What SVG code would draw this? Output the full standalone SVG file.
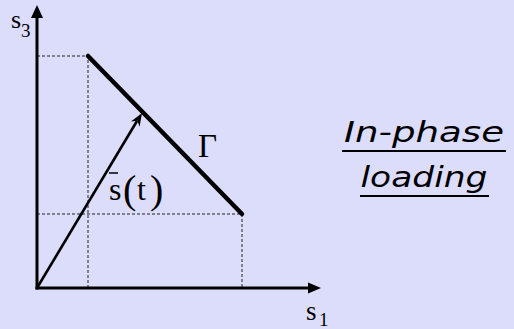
<svg xmlns="http://www.w3.org/2000/svg" width="514" height="329" viewBox="0 0 514 329">
<style>
.axis{stroke:#000;stroke-width:3;fill:none}
.dash{stroke:#222;stroke-width:1;stroke-dasharray:3,2;fill:none}
.serif{fill:#000}
.title{font-family:'DejaVu Sans',Verdana,sans-serif;font-style:italic;font-size:29px;fill:#000}
.ul{stroke:#000;stroke-width:2}
</style>
<rect x="0" y="0" width="514" height="329" fill="#dcdcfb"/>
<g id="guides">
<path class="dash" d="M37,56 H88 V288"/>
<path class="dash" d="M37,214 H242 V288"/>
</g>
<g id="connectors">
<line class="axis" x1="37" y1="289.5" x2="37" y2="16"/>
<polygon points="37,5 43,18 31,18" fill="#000"/>
<line class="axis" x1="35.5" y1="288" x2="310" y2="288"/>
<polygon points="321,288 308,282.5 308,293.5" fill="#000"/>
<line x1="37" y1="288" x2="137" y2="121" stroke="#000" stroke-width="2.6"/>
<polygon points="142,113 139.6,126.8 137.4,120.7 131,121.6" fill="#000"/>
</g>
<g id="gamma-line">
<line x1="88" y1="56" x2="242" y2="214" stroke="#000" stroke-width="4.5" stroke-linecap="round"/>
</g>
<g font-family="Liberation Serif, 'Times New Roman', 'DejaVu Serif', serif">
<g id="label-s3">
<text class="serif" x="11" y="28" font-size="26">s</text>
<text class="serif" x="21" y="37" font-size="19">3</text>
</g>
<g id="label-s1">
<text class="serif" x="306" y="320" font-size="27">s</text>
<text class="serif" x="319" y="326" font-size="19">1</text>
</g>
<g id="label-gamma">
<text class="serif" x="198" y="157" font-size="33">Γ</text>
</g>
<g id="label-st">
<line x1="109" y1="173" x2="118" y2="173" stroke="#000" stroke-width="1.5"/>
<text class="serif" x="109" y="200" font-size="32">s</text>
<text class="serif" x="123" y="203" font-size="40">(</text>
<text class="serif" x="137" y="200" font-size="32">t</text>
<text class="serif" x="150" y="203" font-size="40">)</text>
</g>
</g>
<g id="title">
<text class="title" x="424" y="142" text-anchor="middle" textLength="160" lengthAdjust="spacingAndGlyphs">In-phase</text>
<line class="ul" x1="342" y1="151" x2="506" y2="151"/>
<text class="title" x="424" y="187" text-anchor="middle" textLength="127" lengthAdjust="spacingAndGlyphs">loading</text>
<line class="ul" x1="360" y1="196" x2="489" y2="196"/>
</g>
</svg>
